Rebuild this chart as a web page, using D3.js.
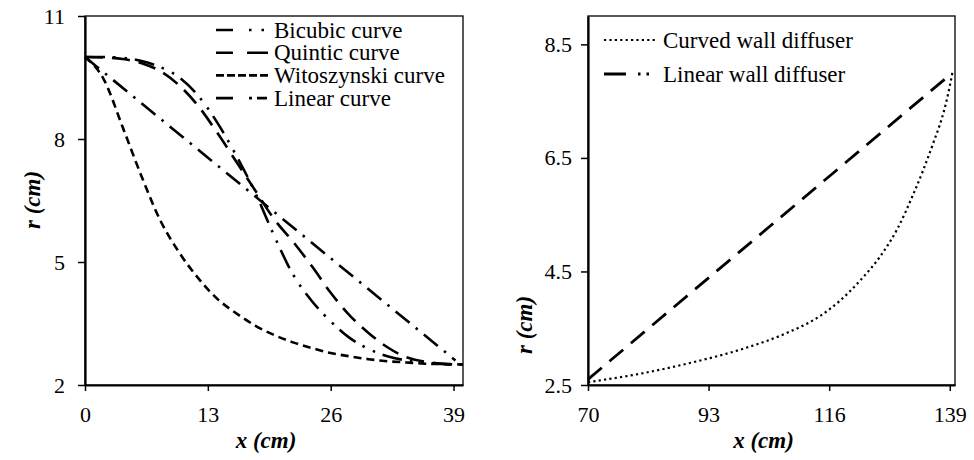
<!DOCTYPE html>
<html>
<head>
<meta charset="utf-8">
<script src="https://cdn.jsdelivr.net/npm/d3@7"></script>
<style>
  body { margin: 0; background: #fff; }
  svg, svg text { font-family: "Liberation Serif", "DejaVu Serif", "Times New Roman", Times, serif; }
  text { fill: #000; }
  .tick text { font-size: 22px; }
  .axis-title { font-size: 23px; font-weight: bold; font-style: italic; }
  .legend text { font-size: 23px; }
</style>
</head>
<body>
<script>
// ---- data ----------------------------------------------------------------
// left panel: nozzle contours, r (cm) against x (cm)
var nozzleX = [0, 2, 4, 6, 8, 10, 12, 14, 16, 18, 20, 22, 24, 26, 28, 30, 32,
               34, 36, 38, 40];
var bicubicR = [10, 10, 9.98, 9.9, 9.75, 9.5, 9.05, 8.4, 7.6, 6.7, 5.65, 4.7,
                4.05, 3.55, 3.15, 2.88, 2.7, 2.6, 2.54, 2.51, 2.5];
var quinticR = [10, 9.99, 9.95, 9.85, 9.65, 9.3, 8.8, 8.15, 7.45, 6.75, 6.05,
                5.5, 4.9, 4.25, 3.7, 3.27, 2.92, 2.68, 2.57, 2.52, 2.5];
var witoszynskiR = [10, 9.45, 8.28, 7.08, 6.0, 5.22, 4.6, 4.1, 3.75, 3.45,
                    3.22, 3.04, 2.9, 2.78, 2.7, 2.63, 2.58, 2.55, 2.52, 2.51,
                    2.5];
var linearX = [0, 39.2];
var linearR = [10, 2.6];

var leftXTicks = [0, 13, 26, 39];
var leftYTicks = [2, 5, 8, 11];
var leftNames = ["Bicubic curve", "Quintic curve", "Witoszynski curve",
                 "Linear curve"];

// right panel: diffuser walls
var curvedX = [70, 80, 90, 100, 108, 114, 118, 122, 126, 129, 132, 134, 136,
               137.5, 138.5, 139.5];
var curvedR = [2.55, 2.7, 2.9, 3.15, 3.42, 3.7, 3.98, 4.35, 4.8, 5.25, 5.85,
               6.3, 6.8, 7.2, 7.55, 8.0];
var linearWallX = [70, 139.5];
var linearWallR = [2.6, 8.0];

var rightXTicks = [70, 93, 116, 139];
var rightYTicks = [2.5, 4.5, 6.5, 8.5];
var rightNames = ["Curved wall diffuser", "Linear wall diffuser"];

// ---- svg -------------------------------------------------------------------
var svg = d3.select("body").append("svg")
    .attr("width", 974)
    .attr("height", 460)
    .attr("font-family", "Liberation Serif, DejaVu Serif, serif");

svg.append("rect")
    .attr("width", 974)
    .attr("height", 460)
    .attr("fill", "#fff");

// one panel = frame + axes + titles, returns the scales
function panel(xDomain, xRange, yDomain, yRange, xTicks, yTicks, yFmt,
               yPad, yTitleX, yTitleY) {
    var x = d3.scaleLinear().domain(xDomain).range(xRange);
    var y = d3.scaleLinear().domain(yDomain).range(yRange);

    // thin frame on top / right
    svg.append("rect")
        .attr("x", xRange[0])
        .attr("y", yRange[1])
        .attr("width", xRange[1] - xRange[0])
        .attr("height", yRange[0] - yRange[1])
        .attr("fill", "none")
        .attr("stroke", "#000")
        .attr("stroke-width", 1.3);

    var gx = svg.append("g")
        .attr("transform", "translate(0," + yRange[0] + ")")
        .call(d3.axisBottom(x).tickValues(xTicks).tickSize(6)
              .tickSizeOuter(0).tickPadding(15));

    var gy = svg.append("g")
        .attr("transform", "translate(" + xRange[0] + ",0)")
        .call(d3.axisLeft(y).tickValues(yTicks).tickSize(7)
              .tickSizeOuter(0).tickPadding(yPad).tickFormat(yFmt));

    [gx, gy].forEach(function(g) {
        g.attr("font-family", null).attr("font-size", null);
        g.select(".domain").attr("stroke-width", 2.2);
        g.selectAll(".tick line").attr("stroke-width", 1.5);
        g.selectAll(".tick text").attr("fill", "#000");
    });

    svg.append("text")
        .attr("class", "axis-title")
        .attr("x", (xRange[0] + xRange[1]) / 2 - 8)
        .attr("y", 448)
        .attr("text-anchor", "middle")
        .text("x (cm)");

    svg.append("text")
        .attr("class", "axis-title")
        .attr("transform", "translate(" + yTitleX + "," + yTitleY +
              ") rotate(-90)")
        .attr("text-anchor", "middle")
        .text("r (cm)");

    return {x: x, y: y};
}

var left = panel([0, 40], [85, 463], [2, 11], [385, 16], leftXTicks,
                 leftYTicks, d3.format("d"), 13, 40, 200);
var right = panel([70, 140], [588, 955], [2.5, 9], [385, 16], rightXTicks,
                  rightYTicks, d3.format(".1f"), 9, 532, 325);

// draw a series through the panel scales
function series(sc, xs, ys, dash, width) {
    var line = d3.line()
        .x(function(d) { return sc.x(d[0]); })
        .y(function(d) { return sc.y(d[1]); })
        .curve(d3.curveMonotoneX);
    svg.append("path")
        .datum(xs.map(function(v, i) { return [v, ys[i]]; }))
        .attr("d", line)
        .attr("fill", "none")
        .attr("stroke", "#000")
        .attr("stroke-width", width)
        .attr("stroke-dasharray", dash);
}

series(left, linearX, linearR, "18,8,2.5,8", 2.6);
series(left, nozzleX, witoszynskiR, "8,5", 2.6);
series(left, nozzleX, quinticR, "18,9", 2.6);
series(left, nozzleX, bicubicR, "20,8,2.5,9,2.5,8", 2.6);

series(right, curvedX, curvedR, "2.2,3.2", 2.2);
series(right, linearWallX, linearWallR, "18,10", 2.8);

// ---- legends -----------------------------------------------------------------
var leftDash = ["17,16,2.5,10,2.5,100", "17,14,21", "8,3", "17,16,3,5,10"];
var legL = svg.append("g").attr("class", "legend");
leftNames.forEach(function(name, i) {
    var yy = 30 + i * 22.7;
    legL.append("line")
        .attr("x1", 216).attr("x2", 269)
        .attr("y1", yy).attr("y2", yy)
        .attr("stroke", "#000")
        .attr("stroke-width", 2.6)
        .attr("stroke-dasharray", leftDash[i]);
    legL.append("text")
        .attr("x", 274)
        .attr("y", yy)
        .attr("dy", "0.33em")
        .text(name);
});

var rightDash = ["2.2,3.2", "22,12,2.5,6,2.5,100"];
var rightW = [2.2, 2.8];
var legR = svg.append("g").attr("class", "legend");
rightNames.forEach(function(name, i) {
    var yy = 40 + i * 34;
    legR.append("line")
        .attr("x1", 604).attr("x2", 657)
        .attr("y1", yy).attr("y2", yy)
        .attr("stroke", "#000")
        .attr("stroke-width", rightW[i])
        .attr("stroke-dasharray", rightDash[i]);
    legR.append("text")
        .attr("x", 663)
        .attr("y", yy)
        .attr("dy", "0.33em")
        .text(name);
});
</script>
</body>
</html>
